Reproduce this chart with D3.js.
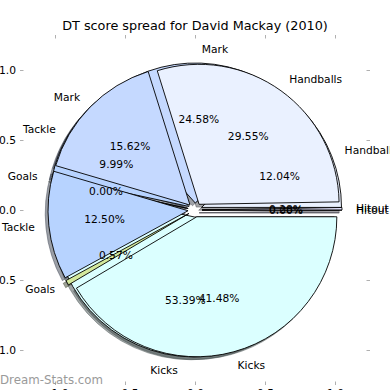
<!DOCTYPE html>
<html>
<head>
<meta charset="utf-8">
<script src="https://cdn.jsdelivr.net/npm/d3@7"></script>
<style>
  body { margin: 0; background: #fff; }
  svg { display: block; font-family: "DejaVu Sans", sans-serif; }
  .tick line { stroke: #b0b0b0; }
</style>
</head>
<body>
<svg id="chart" width="390" height="390"></svg>
<script>
const labels = ['Hitout', 'Handballs', 'Mark', 'Tackle', 'Goals', 'Kicks'];
const colors = ['#e4e4ff', '#eaf1ff', '#c5d9ff', '#b7d3ff', '#d3e89c', '#dbffff'];
// two seasons/games drawn over each other; percent of DT score
const spreadBack = [0.00, 12.04, 24.58, 9.99, 0.00, 53.39];
const spreadFront = [0.28, 29.55, 15.62, 12.50, 0.57, 41.48];
const tickValues = [-1.0, -0.5, 0.0, 0.5, 1.0];

const explode = 0.05;

var svg = d3.select('#chart');

var x = d3.scaleLinear().domain([-1.25, 1.25]).range([20, 370]);
var y = d3.scaleLinear().domain([-1.25, 1.25]).range([385, 35]);
var unit = x(1) - x(0);

// counterclockwise from 3 o'clock, like matplotlib
var pie = d3.pie()
    .sort(null)
    .value(function(d) { return d.value; })
    .startAngle(Math.PI / 2)
    .endAngle(Math.PI / 2 - 2 * Math.PI);

var arc = d3.arc().innerRadius(0).outerRadius(unit);

function midAngle(d) { return (d.startAngle + d.endAngle) / 2; }
// offset r (in data units) along the wedge middle
function pos(d, r) {
    var a = midAngle(d);
    return [x(0) + Math.sin(a) * r * unit, y(0) - Math.cos(a) * r * unit];
}

function shadowColor(c) {
    var rgb = d3.rgb(c);
    return 'rgba(' + Math.round(rgb.r * 0.3) + ',' + Math.round(rgb.g * 0.3) + ',' + Math.round(rgb.b * 0.3) + ',0.5)';
}

var pies = [spreadBack, spreadFront].map(function(vals) {
    return pie(vals.map(function(v, i) { return {label: labels[i], value: v, color: colors[i]}; }));
});

// axes ticks (frame is hidden)
svg.append('g')
    .attr('transform', 'translate(' + x.range()[0] + ',0)')
    .call(d3.axisLeft(y).tickValues(tickValues).tickSize(-3.5).tickPadding(4).tickFormat(d3.format('.1f')))
    .call(function(g) { g.select('.domain').remove(); });
svg.append('g')
    .attr('transform', 'translate(' + x.range()[1] + ',0)')
    .call(d3.axisRight(y).tickValues(tickValues).tickSize(-3.5).tickFormat(''))
    .call(function(g) { g.select('.domain').remove(); });
svg.append('g')
    .attr('transform', 'translate(0,' + y.range()[0] + ')')
    .call(d3.axisBottom(x).tickValues(tickValues).tickSize(-3.5).tickPadding(4).tickFormat(d3.format('.1f')))
    .call(function(g) { g.select('.domain').remove(); });
svg.append('g')
    .attr('transform', 'translate(0,' + y.range()[1] + ')')
    .call(d3.axisTop(x).tickValues(tickValues).tickSize(-3.5).tickFormat(''))
    .call(function(g) { g.select('.domain').remove(); });
svg.selectAll('.tick text').attr('font-size', 10.7).attr('fill', '#000').attr('font-family', 'DejaVu Sans');

// shadows sit under every wedge
var shadows = svg.append('g');
pies.forEach(function(arcs) {
    shadows.append('g').selectAll('path')
        .data(arcs)
      .enter().append('path')
        .attr('transform', function(d) {
            var p = pos(d, explode);
            return 'translate(' + (p[0] - 0.02 * unit) + ',' + (p[1] + 0.02 * unit) + ')';
        })
        .attr('d', arc)
        .attr('fill', function(d) { return shadowColor(d.data.color); })
        .attr('stroke', function(d) { return shadowColor(d.data.color); })
        .attr('stroke-width', 0.9);
});

pies.forEach(function(arcs) {
    svg.append('g')
        .selectAll('path')
        .data(arcs)
      .enter().append('path')
        .attr('transform', function(d) {
            var p = pos(d, explode);
            return 'translate(' + p[0] + ',' + p[1] + ')';
        })
        .attr('d', arc)
        .attr('fill', function(d) { return d.data.color; })
        .attr('stroke', '#000')
        .attr('stroke-width', 0.9)
        .attr('stroke-linejoin', 'miter');
});

var fmt = d3.format('.2f');
pies.forEach(function(arcs) {
    var g = svg.append('g').attr('font-size', 10.7).attr('fill', '#000');

    g.selectAll('.lbl')
        .data(arcs)
      .enter().append('text')
        .attr('class', 'lbl')
        .attr('x', function(d) { return pos(d, 1.1 + explode)[0]; })
        .attr('y', function(d) { return pos(d, 1.1 + explode)[1]; })
        .attr('dy', '0.35em')
        .attr('text-anchor', function(d) { return Math.sin(midAngle(d)) > 0 ? 'start' : 'end'; })
        .text(function(d) { return d.data.label; });

    g.selectAll('.pct')
        .data(arcs)
      .enter().append('text')
        .attr('class', 'pct')
        .attr('x', function(d) { return pos(d, 0.6 + explode)[0]; })
        .attr('y', function(d) { return pos(d, 0.6 + explode)[1]; })
        .attr('dy', '0.35em')
        .attr('text-anchor', 'middle')
        .text(function(d) { return fmt(d.data.value) + '%'; });
});

svg.append('text')
    .attr('x', x(0))
    .attr('y', 30)
    .attr('text-anchor', 'middle')
    .attr('font-size', 12.8)
    .text('DT score spread for David Mackay (2010)');

svg.append('text')
    .attr('x', 0)
    .attr('y', 384)
    .attr('font-size', 11.8)
    .attr('fill', '#9a9a9a')
    .text('Dream-Stats.com');
</script>
</body>
</html>
